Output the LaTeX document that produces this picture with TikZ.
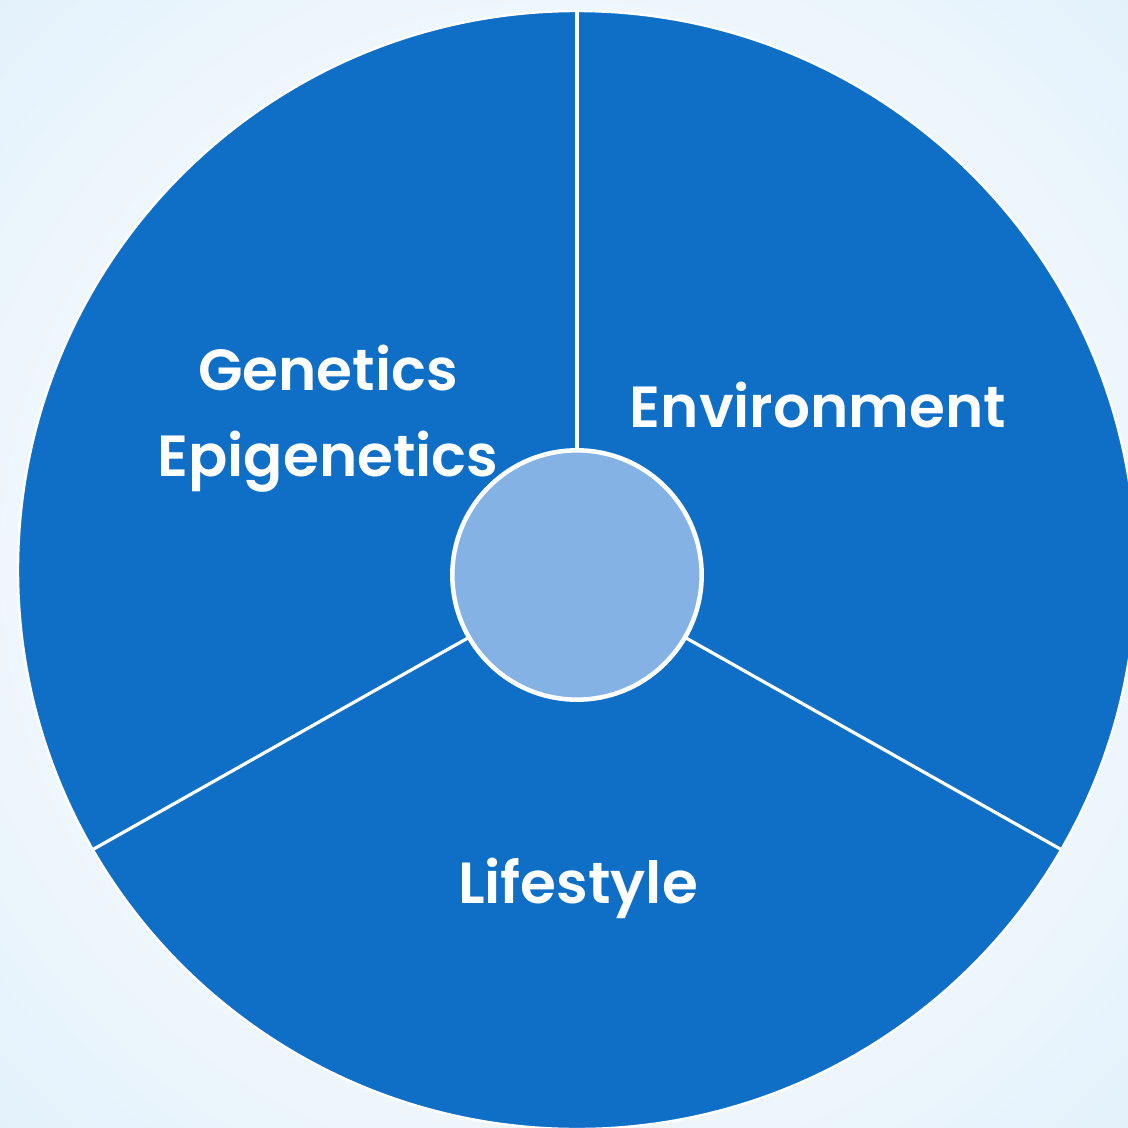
\documentclass[tikz,border=0pt]{standalone}
\usepackage{fontspec}
\setmainfont{Poppins}[BoldFont={* SemiBold}]
\usetikzlibrary{calc}
\definecolor{segblue}{RGB}{15,111,198}
\definecolor{hubblue}{RGB}{132,178,228}
\definecolor{bgouter}{RGB}{226,241,251}
\definecolor{bginner}{RGB}{250,252,254}
\pgfdeclareradialshading{bgglow}{\pgfpoint{0bp}{0bp}}{color(0bp)=(bginner); color(14bp)=(bginner); color(36bp)=(bgouter); color(50bp)=(bgouter)}
\tikzset{every picture/.style={line width=0.75pt}}
\tikzset{
  segtext/.style={text=white, font=\fontsize{43.5}{52}\selectfont\bfseries, align=center, inner sep=0.75pt},
  divider/.style={draw=white, line width=2.4pt},
}

\begin{document}
\begin{tikzpicture}[x=0.75pt,y=0.75pt,yscale=-1,xscale=1]
%Shape: Rectangle (background)
\shade [shading=bgglow] (0,0) rectangle (1128,1128);
\useasboundingbox (0,0) rectangle (1128,1128);

\coordinate (o) at (577,570);
%Shape: Circle (outer wheel)
\begin{scope}
\clip (0,0) rectangle (1128,1128);
\draw [draw=white, line width=1.8pt, fill=segblue] (o) circle [radius=559];
\end{scope}

%Shape: Circle (hub)
\node (hub) [circle, draw=white, line width=3.4pt, fill=hubblue, minimum size=187pt, inner sep=0pt] at (577,575) {};

%Straight Lines (dividers)
\coordinate (top) at ($(o)+(0,-559)$);
\coordinate (lowleft) at ($(o)+(150:559)$);
\coordinate (lowright) at ($(o)+(30:559)$);
\draw [divider] (hub.north) -- (top);
\draw [divider] (hub.210) -- (lowleft);
\draw [divider] (hub.330) -- (lowright);

% Text Node
\node (gen) [segtext] at (328,368) {Genetics};
% Text Node
\node (epi) [segtext] at (328,462) {Epigenetics};
% Text Node
\node (env) [segtext] at (818,405) {Environment};
% Text Node
\node (life) [segtext] at (578,888) {Lifestyle};

\end{tikzpicture}
\end{document}
